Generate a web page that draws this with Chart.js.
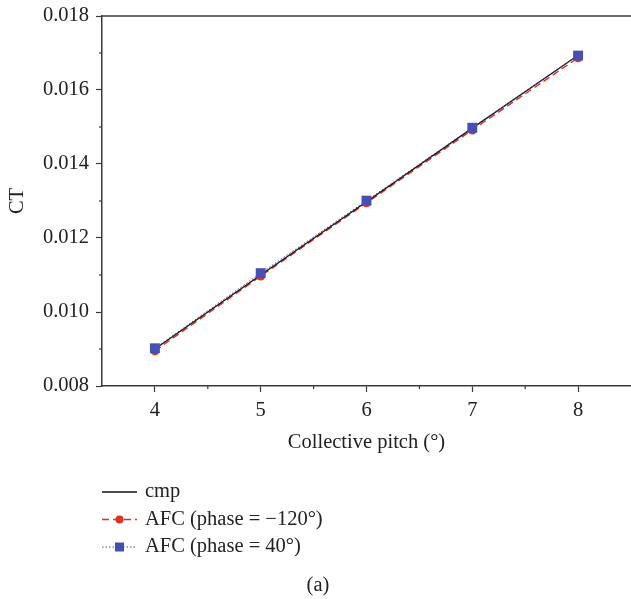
<!DOCTYPE html>
<html>
<head>
<meta charset="utf-8">
<script src="https://cdn.jsdelivr.net/npm/chart.js@4"></script>
<style>
  html, body { margin: 0; padding: 0; background: #fff; }
</style>
</head>
<body>
<canvas id="ctChart" width="631" height="599"></canvas>
<script>
// collective pitch (deg) and thrust coefficient
var pitch = [4, 5, 6, 7, 8];
var ctCmp = [0.00900, 0.01100, 0.01298, 0.01497, 0.01694];
var ctAfcM120 = [0.00895, 0.01097, 0.01295, 0.01492, 0.01687];
var ctAfc40 = [0.00902, 0.01105, 0.01301, 0.01498, 0.01693];

var xTicks = [4, 5, 6, 7, 8];
var yTicks = [0.008, 0.010, 0.012, 0.014, 0.016, 0.018];
var xMinor = [4.5, 5.5, 6.5, 7.5];
var yMinor = [0.009, 0.011, 0.013, 0.015, 0.017];

var seriesNames = ['cmp', 'AFC (phase = \u2212120\u00b0)', 'AFC (phase = 40\u00b0)'];

var serif = '"Liberation Serif", "DejaVu Serif", serif';
var fontSize = 20.5;
var axisColor = '#3a3a3a';

function pairs(ys) {
  return pitch.map(function (p, i) { return { x: p, y: ys[i] }; });
}

// frame top line, minor ticks, legend and caption
var extras = {
  id: 'extras',
  afterDraw: function (chart) {
    var ctx = chart.ctx;
    var ca = chart.chartArea;
    var xs = chart.scales.x, ys = chart.scales.y;
    ctx.save();
    ctx.strokeStyle = axisColor;
    ctx.lineWidth = 1.5;
    ctx.beginPath();
    ctx.moveTo(ca.left, ca.top);
    ctx.lineTo(ca.right, ca.top);
    ctx.stroke();

    ctx.lineWidth = 1.2;
    xMinor.forEach(function (v) {
      var px = xs.getPixelForValue(v);
      ctx.beginPath();
      ctx.moveTo(px, ca.bottom);
      ctx.lineTo(px, ca.bottom + 3);
      ctx.stroke();
    });
    yMinor.forEach(function (v) {
      var py = ys.getPixelForValue(v);
      ctx.beginPath();
      ctx.moveTo(ca.left, py);
      ctx.lineTo(ca.left - 3, py);
      ctx.stroke();
    });

    // legend
    ctx.font = fontSize + 'px ' + serif;
    ctx.textBaseline = 'middle';
    chart.data.datasets.forEach(function (ds, i) {
      var y = 492 + i * 27.5;
      ctx.strokeStyle = ds.borderColor;
      ctx.lineWidth = ds.borderWidth;
      ctx.setLineDash(ds.borderDash || []);
      ctx.beginPath();
      ctx.moveTo(102, y);
      ctx.lineTo(137, y);
      ctx.stroke();
      ctx.setLineDash([]);
      if (ds.pointStyle === 'circle') {
        ctx.fillStyle = ds.pointBackgroundColor;
        ctx.beginPath();
        ctx.arc(119.5, y, 4, 0, Math.PI * 2);
        ctx.fill();
      } else if (ds.pointStyle === 'rect') {
        ctx.fillStyle = ds.pointBackgroundColor;
        ctx.fillRect(115, y - 4.5, 9, 9);
      }
      ctx.fillStyle = '#222';
      ctx.textAlign = 'left';
      ctx.fillText(ds.label, 145, y);
    });

    ctx.textAlign = 'center';
    ctx.fillText('(a)', 318, 586);
    ctx.restore();
  }
};

new Chart(document.getElementById('ctChart').getContext('2d'), {
  type: 'line',
  data: {
    datasets: [
      {
        label: seriesNames[0],
        data: pairs(ctCmp),
        borderColor: '#111111',
        borderWidth: 1.3,
        pointRadius: 0,
        fill: false,
        order: 2
      },
      {
        label: seriesNames[1],
        data: pairs(ctAfcM120),
        borderColor: '#e2321f',
        borderWidth: 1.4,
        borderDash: [7, 4],
        pointStyle: 'circle',
        pointRadius: 4.5,
        pointBackgroundColor: '#e2321f',
        pointBorderWidth: 0,
        fill: false,
        order: 3
      },
      {
        label: seriesNames[2],
        data: pairs(ctAfc40),
        borderColor: '#3f48b0',
        borderWidth: 1,
        borderDash: [1.5, 2],
        pointStyle: 'rect',
        pointRadius: 7,
        pointBackgroundColor: '#4650b2',
        pointBorderWidth: 0,
        fill: false,
        order: 1
      }
    ]
  },
  options: {
    responsive: false,
    animation: false,
    layout: { autoPadding: false, padding: { top: 16, right: 0, bottom: 144, left: 0 } },
    plugins: {
      legend: { display: false },
      tooltip: { enabled: false }
    },
    scales: {
      x: {
        type: 'linear',
        min: 3.5,
        max: 8.5,
        afterBuildTicks: function (scale) {
          scale.ticks = xTicks.map(function (v) { return { value: v }; });
        },
        afterFit: function (scale) {
          scale.height = 69;
          scale.paddingLeft = 0;
          scale.paddingRight = 0;
        },
        border: { color: axisColor, width: 1.5 },
        grid: { drawOnChartArea: false, tickLength: 6, tickColor: axisColor, tickWidth: 1.2 },
        ticks: { color: '#222', padding: 6, font: { family: serif, size: fontSize } },
        title: {
          display: true,
          text: 'Collective pitch (\u00b0)',
          color: '#222',
          padding: { top: 0, bottom: 0 },
          font: { family: serif, size: fontSize }
        }
      },
      y: {
        type: 'linear',
        min: 0.008,
        max: 0.018,
        afterBuildTicks: function (scale) {
          scale.ticks = yTicks.map(function (v) { return { value: v }; });
        },
        afterFit: function (scale) {
          scale.width = 102;
          scale.paddingTop = 0;
          scale.paddingBottom = 0;
        },
        border: { color: axisColor, width: 1.5 },
        grid: { drawOnChartArea: false, tickLength: 6, tickColor: axisColor, tickWidth: 1.2 },
        ticks: {
          color: '#222',
          padding: 7,
          font: { family: serif, size: fontSize },
          callback: function (v) { return v.toFixed(3); }
        },
        title: {
          display: true,
          text: 'CT',
          color: '#222',
          padding: { top: 5, bottom: 0 },
          font: { family: serif, size: fontSize }
        }
      }
    }
  },
  plugins: [extras]
});
</script>
</body>
</html>
